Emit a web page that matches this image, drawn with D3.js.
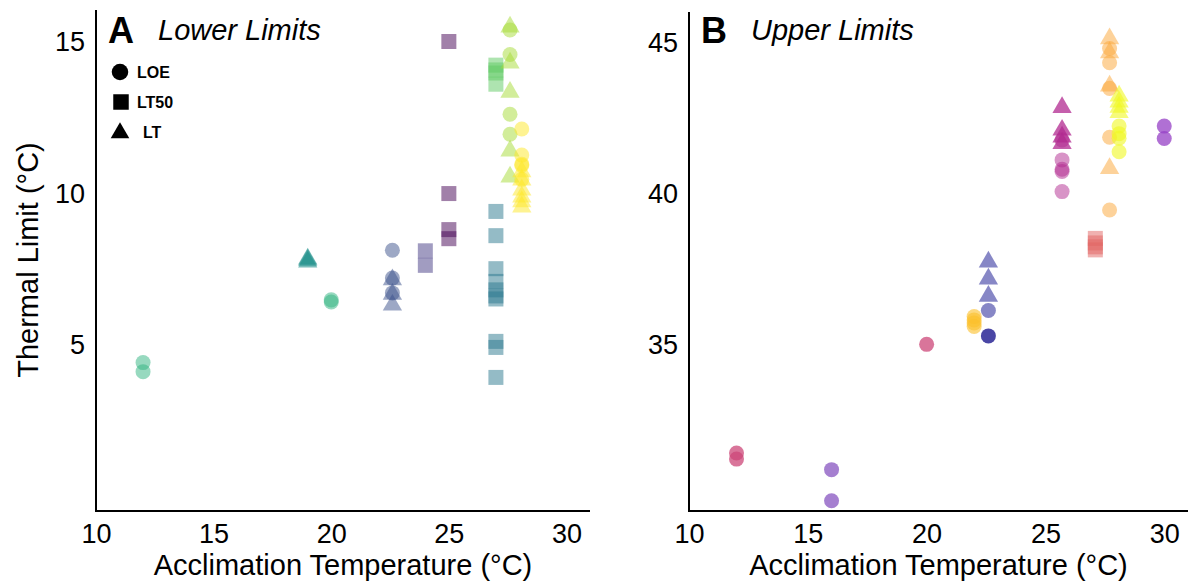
<!DOCTYPE html>
<html>
<head>
<meta charset="utf-8">
<script src="https://cdn.jsdelivr.net/npm/d3@7"></script>
<style>
  body { margin: 0; background: #fff; }
  svg { display: block; font-family: "Liberation Sans", Arial, Helvetica, sans-serif; }
</style>
</head>
<body>
<svg id="chart" width="1194" height="582"></svg>
<script>
'use strict';

// tick labels
const xTicks = [10, 15, 20, 25, 30];
const lowerTicks = [5, 10, 15];
const upperTicks = [35, 40, 45];
const metrics = ['LOE', 'LT50', 'LT'];

// [acclimation temp, thermal limit, metric, group]
const lowerLimits = [
  [12, 4.42, 'LOE', 'a1'], [12, 4.12, 'LOE', 'a1'],
  [20, 6.49, 'LOE', 'a1'], [20, 6.42, 'LOE', 'a1'],
  [19, 7.84, 'LT', 'a2'], [19, 7.80, 'LT', 'a2'], [19, 7.74, 'LT', 'a2'],
  [22.6, 8.13, 'LOE', 'a3'], [22.6, 7.21, 'LOE', 'a3'], [22.6, 6.72, 'LOE', 'a3'],
  [22.6, 7.16, 'LT', 'a3'], [22.6, 6.68, 'LT', 'a3'], [22.6, 6.32, 'LT', 'a3'],
  [24, 8.11, 'LT50', 'a4'], [24, 7.63, 'LT50', 'a4'],
  [25, 15.02, 'LT50', 'a5'], [25, 10.0, 'LT50', 'a5'], [25, 8.81, 'LT50', 'a5'], [25, 8.51, 'LT50', 'a5'],
  [27, 9.41, 'LT50', 'a6'], [27, 8.61, 'LT50', 'a6'], [27, 7.52, 'LT50', 'a6'], [27, 7.10, 'LT50', 'a6'],
  [27, 6.82, 'LT50', 'a6'], [27, 6.62, 'LT50', 'a6'], [27, 6.52, 'LT50', 'a6'], [27, 5.12, 'LT50', 'a6'],
  [27, 4.92, 'LT50', 'a6'], [27, 3.93, 'LT50', 'a6'],
  [27, 14.24, 'LT50', 'a7'], [27, 14.08, 'LT50', 'a7'], [27, 13.98, 'LT50', 'a7'], [27, 13.61, 'LT50', 'a7'],
  [27.6, 15.5, 'LT', 'a8'], [27.6, 15.4, 'LOE', 'a8'], [27.6, 14.59, 'LOE', 'a8'], [27.6, 14.31, 'LT', 'a8'],
  [27.6, 13.35, 'LT', 'a8'], [27.6, 12.62, 'LOE', 'a8'], [27.6, 11.96, 'LOE', 'a8'], [27.6, 11.41, 'LT', 'a8'],
  [27.6, 10.55, 'LT', 'a8'],
  [28.1, 12.13, 'LOE', 'a9'], [28.1, 11.27, 'LOE', 'a9'], [28.1, 10.97, 'LOE', 'a9'], [28.1, 10.93, 'LOE', 'a9'],
  [28.1, 10.47, 'LOE', 'a9'], [28.1, 10.72, 'LT', 'a9'], [28.1, 10.45, 'LT', 'a9'], [28.1, 10.12, 'LT', 'a9'],
  [28.1, 9.89, 'LT', 'a9'], [28.1, 9.73, 'LT', 'a9'], [28.1, 9.56, 'LT', 'a9']
];

const upperLimits = [
  [12, 31.42, 'LOE', 'b1'], [12, 31.22, 'LOE', 'b1'],
  [16, 30.87, 'LOE', 'b2'], [16, 29.84, 'LOE', 'b2'],
  [20, 35.02, 'LOE', 'b1'],
  [22, 35.94, 'LOE', 'b3'], [22, 35.83, 'LOE', 'b3'], [22, 35.73, 'LOE', 'b3'], [22, 35.61, 'LOE', 'b3'],
  [22.6, 37.75, 'LT', 'b4'], [22.6, 37.19, 'LT', 'b4'], [22.6, 36.62, 'LT', 'b4'], [22.6, 36.14, 'LOE', 'b4'],
  [22.6, 35.3, 'LOE', 'b5'],
  [25.7, 42.87, 'LT', 'b6'], [25.7, 42.12, 'LT', 'b6'], [25.7, 41.89, 'LT', 'b6'], [25.7, 41.68, 'LT', 'b6'],
  [25.7, 41.79, 'LOE', 'b7'], [25.7, 41.13, 'LOE', 'b7'], [25.7, 40.82, 'LOE', 'b7'], [25.7, 40.75, 'LOE', 'b7'],
  [25.7, 40.08, 'LOE', 'b7'],
  [27.1, 38.53, 'LT50', 'b8'], [27.1, 38.38, 'LT50', 'b8'], [27.1, 38.25, 'LT50', 'b8'], [27.1, 38.15, 'LT50', 'b8'],
  [27.7, 45.15, 'LT', 'b9'], [27.7, 44.68, 'LT', 'b9'], [27.7, 43.58, 'LT', 'b9'], [27.7, 40.85, 'LT', 'b9'],
  [27.7, 44.82, 'LOE', 'b9'], [27.7, 44.35, 'LOE', 'b9'], [27.7, 43.5, 'LOE', 'b9'], [27.7, 41.88, 'LOE', 'b9'],
  [27.7, 39.47, 'LOE', 'b9'],
  [28.1, 43.25, 'LT', 'b10'], [28.1, 43.05, 'LT', 'b10'], [28.1, 42.88, 'LT', 'b10'], [28.1, 42.7, 'LT', 'b10'],
  [28.1, 42.25, 'LOE', 'b10'], [28.1, 42.0, 'LOE', 'b10'], [28.1, 41.85, 'LOE', 'b10'], [28.1, 41.4, 'LOE', 'b10'],
  [30, 42.25, 'LOE', 'b11'], [30, 41.84, 'LOE', 'b11']
];

// fill colour and opacity per group
const groupStyle = {
  a1: ['#2fb37f', 0.5], a2: ['#21918c', 0.6], a3: ['#3b528b', 0.5], a4: ['#443983', 0.5],
  a5: ['#440154', 0.5], a6: ['#2a788e', 0.5], a7: ['#5ec962', 0.5], a8: ['#a5db36', 0.5],
  a9: ['#fde725', 0.5],
  b1: ['#cc4778', 0.75], b2: ['#8754c0', 0.75], b3: ['#fcc02a', 0.6], b4: ['#5f5fb3', 0.75],
  b5: ['#0d0887', 0.75], b6: ['#b12a90', 0.75], b7: ['#b12a90', 0.5], b8: ['#e16462', 0.5],
  b9: ['#fca636', 0.5], b10: ['#f0f921', 0.6], b11: ['#9540c5', 0.75]
};

const shapeSize = { LOE: 177, LT50: 225, LT: 161 };
const shapeType = { LOE: d3.symbolCircle, LT50: d3.symbolSquare, LT: d3.symbolTriangle };

const svg = d3.select('#chart');

/**
 * Draw one panel: axis lines, tick labels, points and titles.
 */
function drawPanel(opts) {
  const x = d3.scaleLinear().domain([10, 31]).range([opts.left, opts.right]);
  const y = d3.scaleLinear().domain(opts.yDomain).range([opts.bottom, opts.top]);
  const g = svg.append('g');

  // points
  g.selectAll('path.pt')
    .data(opts.data)
    .enter().append('path')
      .attr('class', 'pt')
      .attr('transform', d => 'translate(' + x(d[0]) + ',' + y(d[1]) + ')')
      .attr('d', d => d3.symbol().type(shapeType[d[2]]).size(shapeSize[d[2]])())
      .attr('fill', d => groupStyle[d[3]][0])
      .attr('fill-opacity', d => groupStyle[d[3]][1]);

  // axes (ticks hidden, labels only)
  const xAxis = g.append('g')
      .attr('transform', 'translate(0,' + opts.bottom + ')')
      .call(d3.axisBottom(x).tickValues(xTicks).tickSize(0).tickPadding(13));
  const yAxis = g.append('g')
      .attr('transform', 'translate(' + opts.left + ',0)')
      .call(d3.axisLeft(y).tickValues(opts.ticks).tickSize(0).tickPadding(11));
  [xAxis, yAxis].forEach(ax => {
    ax.select('.domain').remove();
    ax.selectAll('text').attr('font-size', 27).attr('fill', '#000')
      .attr('font-family', '"Liberation Sans", Arial, sans-serif');
  });

  g.append('path')
    .attr('d', 'M' + opts.left + ',' + y.range()[1] + 'V' + opts.bottom + 'H' + opts.right)
    .attr('fill', 'none')
    .attr('stroke', '#000')
    .attr('stroke-width', 2);

  g.append('text')
    .attr('x', (opts.left + opts.right) / 2)
    .attr('y', 575)
    .attr('text-anchor', 'middle')
    .attr('font-size', 29)
    .text('Acclimation Temperature (°C)');

  g.append('text')
    .attr('x', opts.left + 12)
    .attr('y', 43)
    .attr('font-size', 36)
    .attr('font-weight', 'bold')
    .text(opts.letter);
  g.append('text')
    .attr('x', opts.left + 62)
    .attr('y', 40)
    .attr('font-size', 29)
    .attr('font-style', 'italic')
    .text(opts.title);
} // drawPanel

drawPanel({ letter: 'A', title: 'Lower Limits', data: lowerLimits, ticks: lowerTicks,
  left: 96, right: 590, top: 10, bottom: 511, yDomain: [-0.48, 16.06] });
drawPanel({ letter: 'B', title: 'Upper Limits', data: upperLimits, ticks: upperTicks,
  left: 689, right: 1188, top: 12, bottom: 511, yDomain: [29.5, 46.03] });

svg.append('text')
  .attr('transform', 'translate(38,260) rotate(-90)')
  .attr('text-anchor', 'middle')
  .attr('font-size', 29)
  .text('Thermal Limit (°C)');

// legend
const legendPos = { LOE: [120, 72, 137, 78], LT50: [121, 102, 137, 108], LT: [120, 133, 143, 138] };
const legendSize = { LOE: 215, LT50: 240, LT: 150 };
const legend = svg.append('g').selectAll('g')
  .data(metrics)
  .enter().append('g');
legend.append('path')
  .attr('transform', d => 'translate(' + legendPos[d][0] + ',' + legendPos[d][1] + ')')
  .attr('d', d => d3.symbol().type(shapeType[d]).size(legendSize[d])());
legend.append('text')
  .attr('x', d => legendPos[d][2])
  .attr('y', d => legendPos[d][3])
  .attr('font-size', 16)
  .attr('font-weight', 'bold')
  .text(d => d);
</script>
</body>
</html>
